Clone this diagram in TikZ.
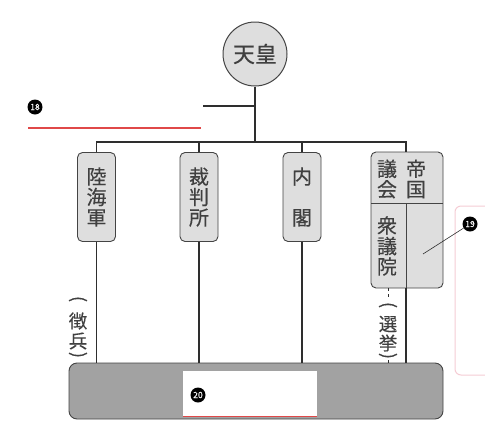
\documentclass[tikz,border=0pt]{standalone}
\usepackage{fontspec}
\setmainfont[FakeBold=0.3]{Noto Sans CJK JP}
\definecolor{linec}{HTML}{2E2E2E}
\definecolor{boxline}{HTML}{444444}
\definecolor{boxfill}{HTML}{DEDEDE}
\definecolor{textc}{HTML}{404040}
\definecolor{basefill}{HTML}{A2A2A2}
\definecolor{redl}{HTML}{E04848}
\definecolor{pinkl}{HTML}{F5CCD4}
\begin{document}
\begin{tikzpicture}[x=1pt,y=-1pt,
  conn/.style={draw=linec, line width=1.4pt},
  org/.style={draw=boxline, fill=boxfill, rounded corners=5pt, line width=0.9pt,
    minimum width=38pt, minimum height=89pt, inner sep=0pt, align=center,
    font=\fontsize{20}{20.5}\selectfont, text=textc},
  vtext/.style={inner sep=0pt, align=center, font=\fontsize{20}{20.5}\selectfont, text=textc},
  stext/.style={inner sep=0pt, font=\fontsize{18.5}{18.5}\selectfont, text=textc},
  paren/.style={inner sep=0pt, rotate=-90, font=\fontsize{18}{18}\selectfont, text=textc},
  num/.style={circle, fill=black, text=white, inner sep=0pt, minimum size=15pt,
    font=\fontsize{8.5}{8.5}\selectfont},
  redline/.style={draw=redl, line width=1.2pt}
  ]
\useasboundingbox (0,0) rectangle (485,421);

% emperor
\node[circle, draw=boxline, fill=boxfill, line width=1pt, minimum size=64pt, inner sep=0pt,
  font=\fontsize{22}{22}\selectfont, text=textc] (emp) at (255,54) {天皇};

\coordinate (junc) at (255,142);
\coordinate (branch) at (203,106);
\coordinate (barR) at (406,142);

% organs
\node[org] (army) at (96.5,197) {陸\\海\\軍};
\node[org] (court) at (199,197) {裁\\判\\所};
\node[org] (cabinet) at (302,197) {内\\\\閣};
\node[org, minimum width=72pt, minimum height=136pt] (diet) at (407,220) {};
\coordinate (dietT) at (406,152);
\coordinate (dietB) at (406,288);
\coordinate (dietMidL) at (371,203);
\coordinate (dietMidR) at (443,203);
\draw[draw=boxline, line width=0.9pt] (dietMidL) -- (dietMidR);
\draw[draw=boxline, line width=0.9pt] (dietB) -- (dietB |- dietMidL);
\node[vtext] (teikoku) at (416,179) {帝\\国};
\node[vtext] (gikai) at (387,179) {議\\会};
\node[vtext] (shugiin) at (387,246) {衆\\議\\院};

% people box
\node[draw=boxline, fill=basefill, rounded corners=8pt, line width=0.9pt,
  minimum width=374pt, minimum height=56pt, inner sep=0pt] (people) at (256,391) {};
\node[fill=white, minimum width=134pt, minimum height=46pt, inner sep=0pt] (ans20) at (250,393.5) {};
\draw[redline] (ans20.south west) -- (ans20.south east);
\node[num] (n20) at (198,395) {20};

% connectors
\draw[conn] (emp) -- (junc);
\draw[conn] (branch) -- (emp |- branch);
\draw[conn, line join=miter] (army.north) |- (barR) -- (dietT);
\draw[conn] (court.north) -- (court.north |- barR);
\draw[conn] (cabinet.north) -- (cabinet.north |- barR);
\draw[conn] (army.south) -- (army.south |- people.north);
\draw[conn] (court.south) -- (court.south |- people.north);
\draw[conn] (cabinet.south) -- (cabinet.south |- people.north);
\draw[conn] (dietB) -- (dietB |- people.north);

% election dashed line
\coordinate (elT) at (388,288);
\draw[draw=linec, line width=0.6pt, dash pattern=on 3pt off 3pt] (elT) -- (elT |- people.north);
\fill[white] (379,297) rectangle (397,359);
\node[paren] (sk1) at (388,305) {(};
\node[stext] (sk2) at (388,324) {選};
\node[stext] (sk3) at (388,343) {挙};
\node[paren] (sk4) at (388,356) {)};

% conscription
\node[paren] (ch1) at (78,299) {(};
\node[stext] (ch2) at (78,321) {徴};
\node[stext] (ch3) at (78,341) {兵};
\node[paren] (ch4) at (78,355) {)};

% answer 18
\node[num] (n18) at (35,107) {18};
\coordinate (r18a) at (28,128);
\coordinate (r18b) at (201,128);
\draw[redline] (r18a) -- (r18b);

% answer 19
\begin{scope}
\clip (0,0) rectangle (485,421);
\draw[draw=pinkl, line width=1pt, rounded corners=6pt] (500,206) -- (455,206) -- (455,375) -- (500,375);
\end{scope}
\node[num] (n19) at (470,224) {19};
\coordinate (lead) at (423,254);
\draw[draw=linec, line width=0.6pt] (lead) -- (n19);
\end{tikzpicture}
\end{document}
